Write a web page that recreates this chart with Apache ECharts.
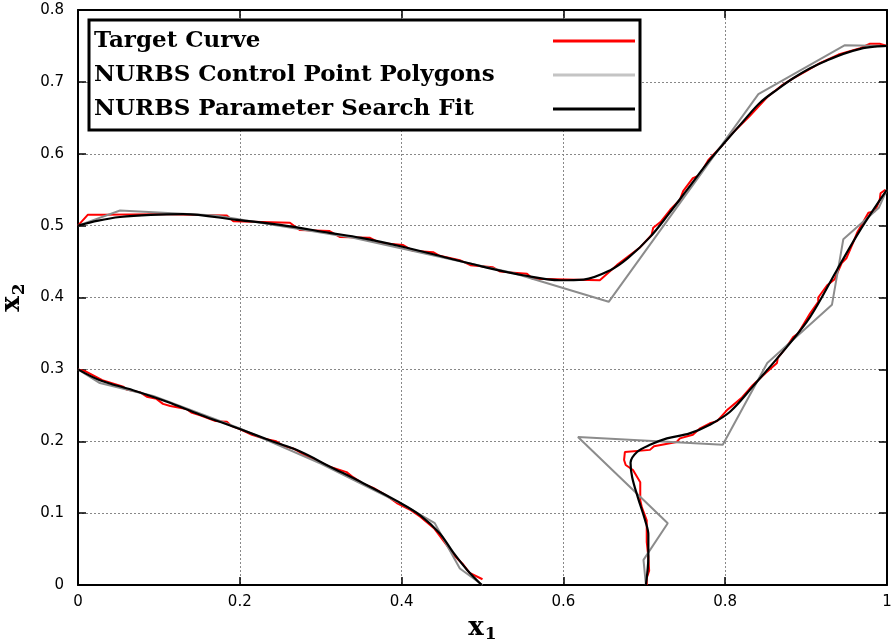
<!DOCTYPE html>
<html>
<head>
<meta charset="utf-8">
<script src="https://cdn.jsdelivr.net/npm/echarts@6/dist/echarts.min.js"></script>
<style>html,body{margin:0;padding:0;background:#fff}#c{width:891px;height:640px}</style>
</head>
<body>
<div id="c"></div>
<script>
// ---- data (x1, x2) ----
const seriesNames = ['Target Curve', 'NURBS Control Point Polygons', 'NURBS Parameter Search Fit'];
const xTicks = [0, 0.2, 0.4, 0.6, 0.8, 1];
const yTicks = [0, 0.1, 0.2, 0.3, 0.4, 0.5, 0.6, 0.7, 0.8];

const upperTarget = [[0,0.50],[0.012,0.515],[0.031,0.515],[0.1,0.516],[0.184,0.514],[0.192,0.506],[0.262,0.504],[0.274,0.494],[0.311,0.4925],[0.324,0.484],[0.361,0.483],[0.373,0.476],[0.402,0.473],[0.414,0.465],[0.439,0.463],[0.447,0.458],[0.472,0.452],[0.485,0.445],[0.513,0.442],[0.522,0.436],[0.555,0.433],[0.562,0.426],[0.645,0.424],[0.666,0.445],[0.695,0.470],[0.709,0.487],[0.711,0.497],[0.72,0.505],[0.732,0.522],[0.744,0.536],[0.748,0.548],[0.760,0.566],[0.768,0.570],[0.779,0.591],[0.795,0.610],[0.810,0.630],[0.83,0.652],[0.852,0.679],[0.87,0.695],[0.884,0.705],[0.9,0.715],[0.917,0.726],[0.94,0.738],[0.967,0.747],[0.979,0.753],[0.991,0.753],[1.0,0.75]];
const upperPolygon = [[0,0.5],[0.052,0.521],[0.17,0.514],[0.34,0.483],[0.538,0.434],[0.656,0.394],[0.841,0.683],[0.948,0.751],[1.0,0.75]];
const upperFit = [[0,0.5],[0.025,0.507],[0.052,0.512],[0.09,0.515],[0.13,0.516],[0.196,0.508],[0.25,0.501],[0.311,0.490],[0.35,0.483],[0.4,0.471],[0.45,0.457],[0.5,0.443],[0.55,0.431],[0.596,0.424],[0.625,0.425],[0.658,0.438],[0.68,0.455],[0.707,0.484],[0.73,0.516],[0.753,0.55],[0.78,0.59],[0.802,0.619],[0.823,0.646],[0.843,0.671],[0.865,0.69],[0.884,0.705],[0.905,0.719],[0.926,0.730],[0.946,0.739],[0.967,0.746],[0.985,0.749],[1.0,0.75]];

const lowerLeftTarget = [[0,0.3],[0.01,0.297],[0.03,0.285],[0.056,0.276],[0.06,0.272],[0.077,0.268],[0.085,0.262],[0.097,0.259],[0.105,0.252],[0.114,0.249],[0.134,0.245],[0.14,0.24],[0.151,0.236],[0.17,0.228],[0.184,0.227],[0.19,0.221],[0.2,0.217],[0.215,0.209],[0.229,0.204],[0.245,0.2],[0.255,0.193],[0.266,0.19],[0.283,0.179],[0.303,0.169],[0.31,0.165],[0.332,0.157],[0.34,0.15],[0.352,0.141],[0.365,0.135],[0.382,0.124],[0.394,0.114],[0.41,0.105],[0.423,0.095],[0.44,0.079],[0.456,0.055],[0.464,0.042],[0.475,0.03],[0.484,0.017],[0.5,0.008]];
const lowerLeftPolygon = [[0,0.3],[0.027,0.281],[0.093,0.263],[0.2,0.218],[0.3,0.169],[0.4,0.113],[0.441,0.086],[0.472,0.023],[0.5,0.0]];
const lowerLeftFit = [[0,0.3],[0.027,0.285],[0.068,0.271],[0.110,0.255],[0.151,0.237],[0.2,0.217],[0.24,0.2],[0.274,0.186],[0.311,0.165],[0.352,0.142],[0.394,0.117],[0.423,0.097],[0.447,0.072],[0.464,0.045],[0.481,0.021],[0.499,0.0]];

const lowerRightTarget = [[0.703,0.0],[0.703,0.01],[0.706,0.02],[0.705,0.039],[0.703,0.06],[0.703,0.09],[0.697,0.108],[0.695,0.118],[0.695,0.143],[0.686,0.16],[0.677,0.167],[0.675,0.174],[0.676,0.185],[0.707,0.188],[0.712,0.193],[0.740,0.199],[0.744,0.204],[0.76,0.209],[0.769,0.218],[0.781,0.225],[0.79,0.228],[0.802,0.243],[0.82,0.26],[0.834,0.278],[0.85,0.295],[0.864,0.309],[0.865,0.316],[0.875,0.33],[0.884,0.345],[0.89,0.35],[0.905,0.378],[0.915,0.394],[0.915,0.40],[0.926,0.417],[0.935,0.425],[0.944,0.448],[0.95,0.455],[0.958,0.476],[0.963,0.49],[0.977,0.518],[0.985,0.52],[0.991,0.536],[0.992,0.545],[0.998,0.55]];
const lowerRightPolygon = [[0.702,0.0],[0.699,0.035],[0.729,0.086],[0.618,0.206],[0.797,0.195],[0.852,0.309],[0.932,0.39],[0.946,0.481],[0.99,0.525],[1.0,0.55]];
const lowerRightFit = [[0.702,0.0],[0.705,0.04],[0.705,0.07],[0.701,0.09],[0.692,0.122],[0.685,0.15],[0.683,0.17],[0.691,0.185],[0.707,0.195],[0.728,0.204],[0.756,0.211],[0.781,0.223],[0.806,0.241],[0.834,0.276],[0.876,0.331],[0.905,0.373],[0.938,0.438],[0.967,0.494],[1.0,0.55]];

const targetCurves = [upperTarget, lowerLeftTarget, lowerRightTarget];
const polygonCurves = [upperPolygon, lowerLeftPolygon, lowerRightPolygon];
const fitCurves = [upperFit, lowerLeftFit, lowerRightFit];

// ---- chart ----
const chart = echarts.init(document.getElementById('c'), null, {renderer: 'canvas'});
const RED = '#ff0000', GRAY = '#8c8c8c', BLACK = '#000000';

function mk(name, data, color, width, smooth, z) {
  return {
    name: name, type: 'line', data: data, showSymbol: false, symbol: 'none',
    smooth: smooth, z: z, animation: false,
    lineStyle: {color: color, width: width},
    itemStyle: {color: color},
    emphasis: {disabled: true}
  };
}
const series = [];
targetCurves.forEach(d => series.push(mk(seriesNames[0], d, RED, 2, false, 2)));
polygonCurves.forEach(d => series.push(mk(seriesNames[1], d, GRAY, 2, false, 3)));
fitCurves.forEach(d => series.push(mk(seriesNames[2], d, BLACK, 2.2, 0.35, 4)));

const serifBold = {fontFamily: 'DejaVu Serif', fontWeight: 'bold', color: '#000'};
const tickFont = {fontFamily: 'DejaVu Sans', fontSize: 15, color: '#000'};
const splitLine = {show: true, lineStyle: {color: '#888', width: 1, type: [2, 2]}};

const option = {
  animation: false,
  backgroundColor: '#fff',
  grid: {left: 78, right: 4, top: 10, bottom: 55, containLabel: false, outerBoundsMode: 'none'},
  xAxis: [{
    type: 'value', min: xTicks[0], max: xTicks[xTicks.length - 1], interval: 0.2,
    position: 'bottom',
    axisLine: {show: true, onZero: false, lineStyle: {color: '#000', width: 2}},
    axisTick: {show: true, inside: true, length: 8, lineStyle: {color: '#000', width: 1.5}},
    axisLabel: Object.assign({margin: 10}, tickFont),
    splitLine: splitLine,
    name: '{a|x}{b|1}', nameLocation: 'middle', nameGap: 20,
    nameTextStyle: {rich: {
      a: Object.assign({fontSize: 26}, serifBold),
      b: Object.assign({fontSize: 17, padding: [14, 0, 0, 1]}, serifBold)
    }}
  }, {
    type: 'value', min: xTicks[0], max: xTicks[xTicks.length - 1], interval: 0.2,
    position: 'top',
    axisLine: {show: true, onZero: false, lineStyle: {color: '#000', width: 2}},
    axisTick: {show: true, inside: true, length: 8, lineStyle: {color: '#000', width: 1.5}},
    axisLabel: {show: false}, splitLine: {show: false}
  }],
  yAxis: [{
    type: 'value', min: yTicks[0], max: yTicks[yTicks.length - 1], interval: 0.1,
    position: 'left',
    axisLine: {show: true, onZero: false, lineStyle: {color: '#000', width: 2}},
    axisTick: {show: true, inside: true, length: 8, lineStyle: {color: '#000', width: 1.5}},
    axisLabel: Object.assign({margin: 14}, tickFont),
    splitLine: splitLine,
    name: '{a|x}{b|2}', nameLocation: 'middle', nameGap: 50,
    nameTextStyle: {rich: {
      a: Object.assign({fontSize: 26}, serifBold),
      b: Object.assign({fontSize: 17, padding: [14, 0, 0, 1]}, serifBold)
    }}
  }, {
    type: 'value', min: yTicks[0], max: yTicks[yTicks.length - 1], interval: 0.1,
    position: 'right',
    axisLine: {show: true, onZero: false, lineStyle: {color: '#000', width: 2}},
    axisTick: {show: true, inside: true, length: 8, lineStyle: {color: '#000', width: 1.5}},
    axisLabel: {show: false}, splitLine: {show: false}
  }],
  legend: {
    show: true, orient: 'vertical', align: 'right',
    left: 89, top: 20,
    itemWidth: 82, itemHeight: 3, itemGap: 0, icon: 'rect',
    padding: [4, 5, 4, 5],
    borderColor: '#000', borderWidth: 3, backgroundColor: '#fff',
    selectedMode: false,
    data: [
      {name: seriesNames[0], itemStyle: {color: RED}},
      {name: seriesNames[1], itemStyle: {color: '#c4c4c4'}},
      {name: seriesNames[2], itemStyle: {color: BLACK}}
    ],
    formatter: function (name) { return '{t|' + name + '}'; },
    textStyle: Object.assign({fontSize: 23, lineHeight: 34, rich: {t: Object.assign({width: 454, height: 34, align: 'left', fontSize: 23, lineHeight: 34}, serifBold)}}, serifBold)
  },
  series: series
};
chart.setOption(option);
</script>
</body>
</html>
